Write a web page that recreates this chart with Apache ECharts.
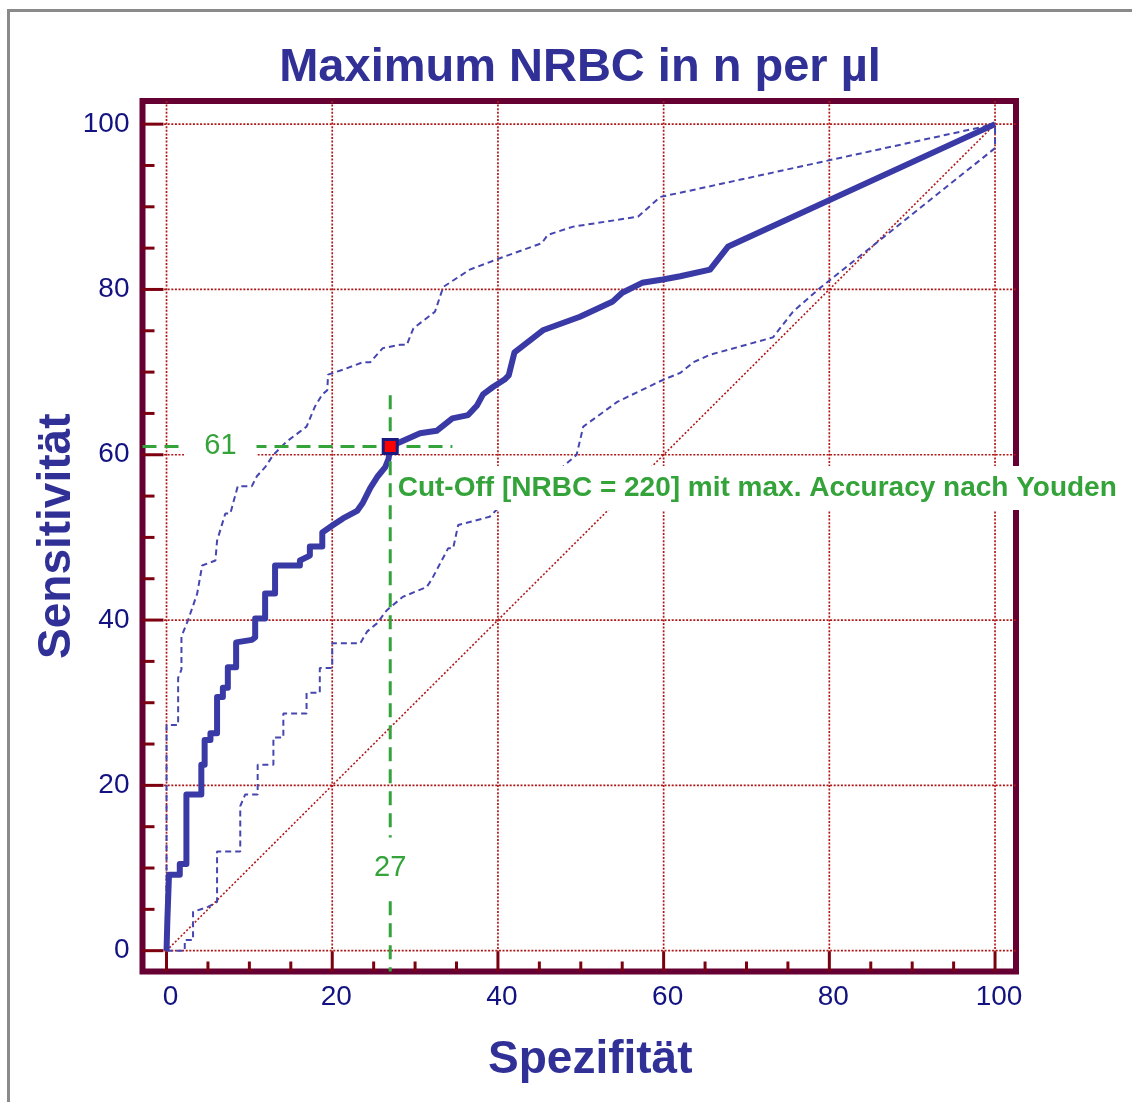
<!DOCTYPE html>
<html>
<head>
<meta charset="utf-8">
<script src="https://cdn.jsdelivr.net/npm/echarts@6/dist/echarts.min.js"></script>
<style>
html,body{margin:0;padding:0;background:#fff;}
#chart{width:1132px;height:1102px;}
</style>
</head>
<body>
<div id="chart"></div>
<script>
// ---------- data ----------
const titleText = 'Maximum NRBC in n per µl';
const xName = 'Spezifität';
const yName = 'Sensitivität';
const axisLabels = [0, 20, 40, 60, 80, 100];
const gridValues = [0, 20, 40, 60, 80, 100];
const minorTicks = [0, 5, 10, 15, 20, 25, 30, 35, 40, 45, 50, 55, 60, 65, 70, 75, 80, 85, 90, 95, 100];

// ROC curve (x = 100 - specificity, y = sensitivity)
const rocCurve = [
  [0,0],[0.1,3.7],[0.3,3.7],[0.3,9.2],[1.6,9.2],[1.6,10.5],[2.4,10.5],[2.4,18.9],[4.2,18.9],
  [4.2,22.5],[4.6,22.5],[4.6,25.5],[5.3,25.5],[5.3,26.3],[6.1,26.3],[6.1,30.7],[6.8,30.7],
  [6.8,31.8],[7.4,31.8],[7.4,34.3],[8.4,34.3],[8.4,37.3],[10.3,37.6],[10.7,37.9],[10.7,40.2],
  [11.9,40.2],[11.9,43.2],[13.1,43.2],[13.1,46.6],[16.1,46.6],[16.1,47.2],[17.3,47.8],[17.3,48.9],
  [18.8,48.9],[18.8,50.6],[20.1,51.5],[21.3,52.3],[23,53.2],[23.7,54.2],[24.6,56],[25.5,57.4],
  [26.4,58.5],[26.8,59.5],[27,61],[30.6,62.6],[32.6,62.9],[34.5,64.4],[36.4,64.8],[37.5,66],
  [38.2,67.3],[39.4,68.2],[40.8,69.1],[41.3,69.6],[42,72.4],[45.5,75.1],[49.9,76.7],[53.8,78.5],
  [55,79.6],[57.4,80.8],[59.9,81.2],[62,81.6],[65.6,82.4],[67.8,85.2],[100,100]
];
const upperCI = [
  [0,0],[0,27.3],[1.4,27.3],[1.4,33],[1.8,34],[1.8,38],[2.6,40],[3.7,43.2],[4.3,46.6],[5.9,47.2],
  [6.1,49.6],[7.1,52.9],[7.7,52.9],[8.6,56.2],[10.3,56.2],[10.9,57.4],[11.9,58.5],[12.9,60],
  [14.5,61.6],[16.1,62.8],[16.9,63.4],[17.9,65.8],[18.8,67.3],[19.4,67.8],[19.5,69.7],[21.3,70.3],
  [23.7,71.2],[24.6,71.2],[26.1,72.9],[28.2,73.3],[29,73.3],[29.8,75.3],[32.4,77.3],[33.4,80.3],
  [36.6,82.4],[40.3,83.8],[45.3,85.6],[46,86.6],[49.1,87.6],[56.9,88.8],[59.6,91.2],[62,91.7],[100,100]
];
const lowerCI = [
  [0,0],[2.2,0],[2.2,1.3],[3.2,1.3],[3.2,4.7],[5,5.3],[6.1,5.9],[6.1,12],[8.9,12],[8.9,17.5],
  [9.5,18.9],[11,18.9],[11,22.5],[12.9,22.5],[12.9,25.8],[14.1,25.8],[14.1,28.7],[16.9,28.7],
  [16.9,31.2],[18.5,31.2],[18.5,34.2],[20,34.2],[20,37.2],[23.4,37.2],[24.2,38.6],[25.4,39.6],
  [26.6,41.2],[28.5,42.8],[31.4,44],[32,44.9],[34,48.7],[34.6,48.7],[35.2,51.5],[39,52.5],
  [39.9,53.4],[42.3,54.2],[45.5,56.5],[48.7,59.3],[49.5,60],[50.3,63.4],[54.4,66.4],[60,69.1],
  [62,69.9],[63.6,71.2],[65.6,72.1],[73.2,74.2],[75.6,77.3],[78.9,80.2],[100,97.1],[100,100]
];
const diagonal = [[0,0],[100,100]];

// Youden cut-off
const cutoffX = 27;
const cutoffY = 61;
const cutoffNRBC = 220;

// ---------- layout / style ----------
const XMIN = -2.9, XMAX = 102.53;
const YMIN = -2.52, YMAX = 102.8;
const FONT = "'Liberation Sans', Arial, Helvetica, sans-serif";
const FRAME = '#660033';
const TICK = '#7d0010';
const GRIDC = '#b01818';
const BLUE = '#3a3aa6';
const CIBLUE = '#4646b0';
const GREEN = '#33a33a';
const LABEL = '#121280';
const TITLEC = '#303096';

const chart = echarts.init(document.getElementById('chart'), null, {renderer: 'canvas'});

function gridLineItem(params, api) {
  const cs = params.coordSys;
  const kind = api.value(2);
  if (kind === 0) {
    const x = api.coord([api.value(0), 0])[0];
    return {type: 'line', shape: {x1: x, y1: cs.y, x2: x, y2: cs.y + cs.height},
      style: {stroke: GRIDC, lineWidth: 1.7, lineDash: [2, 1.6]}, silent: true};
  } else {
    const y = api.coord([0, api.value(1)])[1];
    return {type: 'line', shape: {x1: cs.x, y1: y, x2: cs.x + cs.width, y2: y},
      style: {stroke: GRIDC, lineWidth: 1.7, lineDash: [2, 1.6]}, silent: true};
  }
}
function tickItem(params, api) {
  const cs = params.coordSys;
  const v = api.value(2);
  const kind = api.value(3);
  const major = v % 20 === 0;
  if (kind === 0) {
    const x = api.coord([v, 0])[0];
    const y0 = cs.y + cs.height;
    return {type: 'line', shape: {x1: x, y1: y0, x2: x, y2: y0 - (major ? 20 : 10)},
      style: {stroke: TICK, lineWidth: 3}, silent: true};
  } else {
    const y = api.coord([0, v])[1];
    const x0 = cs.x;
    return {type: 'line', shape: {x1: x0, y1: y, x2: x0 + (major ? 21 : 12), y2: y},
      style: {stroke: TICK, lineWidth: 3}, silent: true};
  }
}

const gridData = gridValues.map(v => [v, 0, 0]).concat(gridValues.map(v => [0, v, 1]));
const tickData = minorTicks.map(v => [v, 0, v, 0]).concat(minorTicks.map(v => [0, v, v, 1]));

const HIDDEN = 'rgba(0,0,0,0)';

const option = {
  animation: false,
  backgroundColor: '#ffffff',
  title: {
    text: titleText,
    left: 575, top: 40, textAlign: 'center',
    textStyle: {fontFamily: FONT, fontSize: 47, fontWeight: 'bold', color: TITLEC}
  },
  graphic: [{
    type: 'rect', z: 100, silent: true,
    shape: {x: 8.5, y: 10.5, width: 1300, height: 1300},
    style: {fill: null, stroke: '#8a8a8a', lineWidth: 3}
  }],
  grid: {
    left: 142.5, right: 116, top: 101, bottom: 130.5,
    show: true, borderColor: FRAME, borderWidth: 6, backgroundColor: '#fff',
    outerBoundsMode: 'none'
  },
  xAxis: {
    type: 'value', min: XMIN, max: XMAX,
    name: xName, nameLocation: 'middle', nameGap: 66, nameMoveOverlap: false,
    nameTextStyle: {fontFamily: FONT, fontSize: 46, fontWeight: 'bold', color: TITLEC, padding: [0, 0, 0, 22]},
    axisLine: {show: false}, axisTick: {show: false}, splitLine: {show: false},
    axisLabel: {customValues: axisLabels, fontFamily: FONT, fontSize: 28, color: LABEL, margin: 12, padding: [0, 0, 0, 8]}
  },
  yAxis: {
    type: 'value', min: YMIN, max: YMAX,
    name: yName, nameLocation: 'middle', nameGap: 62, nameRotate: 90, nameMoveOverlap: false,
    nameTextStyle: {fontFamily: FONT, fontSize: 46, fontWeight: 'bold', color: TITLEC},
    axisLine: {show: false}, axisTick: {show: false}, splitLine: {show: false},
    axisLabel: {customValues: axisLabels, fontFamily: FONT, fontSize: 28, color: LABEL, margin: 13}
  },
  series: [
    {type: 'custom', name: 'grid', renderItem: gridLineItem, data: gridData, z: 1, silent: true, clip: false},
    {type: 'custom', name: 'ticks', renderItem: tickItem, data: tickData, z: 1, silent: true, clip: false},
    {type: 'line', name: 'diag', data: diagonal, showSymbol: false, silent: true, z: 2,
      lineStyle: {color: GRIDC, width: 1.6, type: [2, 2]}},
    {type: 'line', name: 'upper', data: upperCI, showSymbol: false, silent: true, z: 3,
      lineStyle: {color: CIBLUE, width: 2, type: [6, 4]}},
    {type: 'line', name: 'lower', data: lowerCI, showSymbol: false, silent: true, z: 3,
      lineStyle: {color: CIBLUE, width: 2, type: [6, 4]}},
    {type: 'line', name: 'roc', data: rocCurve, showSymbol: false, silent: true, z: 4,
      lineStyle: {color: BLUE, width: 6, join: 'round'}},
    {type: 'line', name: 'hline', data: [[XMIN, cutoffY], [34.5, cutoffY]], showSymbol: false, silent: true, z: 5,
      lineStyle: {color: GREEN, width: 3, type: [14, 8]}},
    {type: 'line', name: 'vline', data: [[cutoffX, 67.2], [cutoffX, YMIN]], showSymbol: false, silent: true, z: 5,
      lineStyle: {color: GREEN, width: 3, type: [14, 8]}},
    {type: 'scatter', name: 'labels', silent: true, z: 6, symbolSize: 1,
      itemStyle: {color: HIDDEN, opacity: 1},
      data: [
        {value: [6.5, cutoffY], label: {show: true, formatter: String(cutoffY), position: 'inside',
          fontFamily: FONT, fontSize: 29, color: GREEN, backgroundColor: '#fff', padding: [4, 20]}},
        {value: [cutoffX, 10], label: {show: true, formatter: String(cutoffX), position: 'inside',
          fontFamily: FONT, fontSize: 29, color: GREEN, backgroundColor: '#fff', padding: [16, 6]}},
        {value: [cutoffX, cutoffY], label: {show: true,
          formatter: 'Cut-Off [NRBC = ' + cutoffNRBC + '] mit max. Accuracy nach Youden',
          position: [4, 42], align: 'left', verticalAlign: 'middle',
          fontFamily: FONT, fontSize: 28, fontWeight: 'bold', color: GREEN, backgroundColor: '#fff', padding: [13, 6, 3, 4]}}
      ]},
    {type: 'scatter', name: 'cutoff', silent: true, z: 10, data: [[cutoffX, cutoffY]],
      symbol: 'rect', symbolSize: 14,
      itemStyle: {color: '#ff0000', borderColor: '#1a1a80', borderWidth: 3, opacity: 1}}
  ]
};
chart.setOption(option);
</script>
</body>
</html>
